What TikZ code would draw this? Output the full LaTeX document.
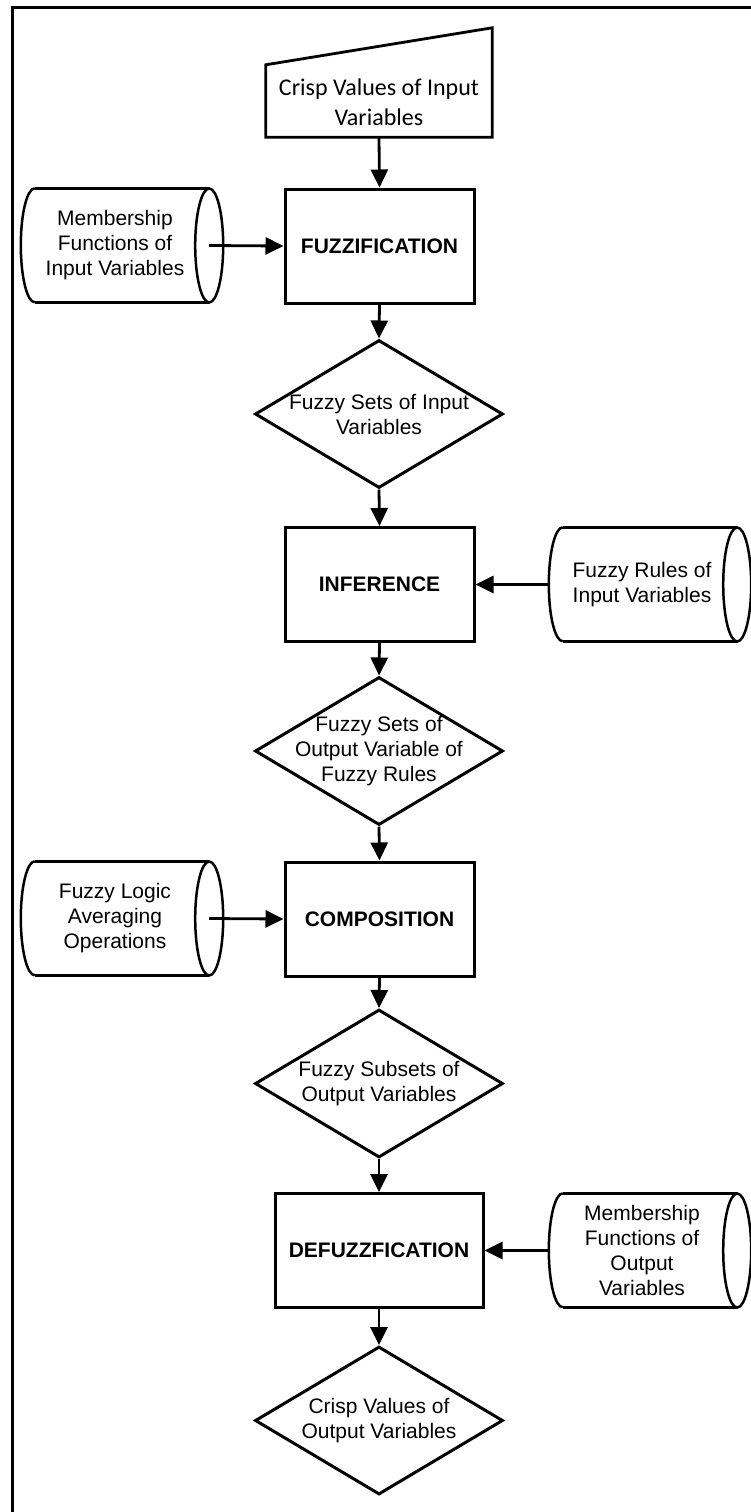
\documentclass[tikz,border=0pt]{standalone}
\usepackage{fontspec}
\setmainfont{Liberation Sans}
\newfontfamily\calibrifont{Carlito}
\usetikzlibrary{arrows.meta,shapes.geometric}
\tikzset{
  proc/.style={draw, line width=3pt, rectangle, minimum width=189pt,
    minimum height=114pt, inner sep=0pt,
    font=\fontsize{21}{25}\selectfont\bfseries},
  dec/.style={draw, line width=3pt, diamond, minimum width=248pt,
    minimum height=148pt, inner sep=0pt},
  txt/.style={align=center, inner sep=0pt, font=\fontsize{21}{25}\selectfont},
  flow/.style={line width=2.8pt, -{Triangle[length=18pt,width=17pt]}},
  store/.style={rectangle, inner sep=0pt, minimum width=174pt, minimum height=114pt},
  cyl/.style={line width=2.5pt},
}
% horizontal stored-data drum: left half-ellipse end, full ellipse on the right
\newcommand\drumoutline[1]{%
  \draw[cyl] (#1.north west) -- (#1.north east) (#1.south west) -- (#1.south east);
  \draw[cyl] (#1.east) ellipse [x radius=14pt, y radius=57pt];
  \draw[cyl] (#1.north west) arc [start angle=90, end angle=270, x radius=14pt, y radius=57pt];
}
\begin{document}
\begin{tikzpicture}[x=1pt, y=-1pt]
\useasboundingbox (0,0) rectangle (751,1512);
\clip (0,0) rectangle (751,1512);

% outer frame
\draw[line width=3pt] (12,1530) -- (12,7.5) -- (770,7.5);

% manual input
\node[rectangle, inner sep=0pt, minimum width=226pt, minimum height=109pt] (cin) at (379,82.5) {};
\draw[line width=2.8pt, line join=miter] (cin.south west) -- (cin.south east) -- (cin.north east)
  -- ([yshift=-37pt]cin.north west) -- cycle;
\node[align=center, inner sep=0pt, font=\calibrifont\fontsize{24}{30}\selectfont]
  (cintxt) at ([yshift=-19.5pt]cin.center) {Crisp Values of Input\\Variables};

% process steps
\node[proc] (fuz) at (379.5,246) {FUZZIFICATION};
\node[proc] (inf) at (379.5,584.5) {INFERENCE};
\node[proc] (com) at (379.5,919) {COMPOSITION};
\node[proc, minimum width=208pt] (def) at (379,1250.5) {DEFUZZFICATION};

% intermediate data
\node[dec] (d1) at (379,414) {};
\node[txt] (d1t) at (d1) {Fuzzy Sets of Input\\Variables};
\node[dec] (d2) at (379,751) {};
\node[txt] (d2t) at (d2) {Fuzzy Sets of\\Output Variable of\\Fuzzy Rules};
\node[dec] (d3) at (379,1083.5) {};
\node[txt] (d3t) at (d3) {Fuzzy Subsets of\\Output Variables};
\node[dec] (d4) at (379,1420.5) {};
\node[txt] (d4t) at (d4) {Crisp Values of\\Output Variables};

% stored knowledge
\node[store] (mfi) at (122,245.5) {};
\drumoutline{mfi}
\node[txt] (mfit) at ([xshift=-7pt]mfi.center) {Membership\\Functions of\\Input Variables};

\node[store] (rul) at (650,584.5) {};
\drumoutline{rul}
\node[txt] (rult) at ([xshift=-8pt]rul.center) {Fuzzy Rules of\\Input Variables};

\node[store] (avg) at (122,918.5) {};
\drumoutline{avg}
\node[txt] (avgt) at ([xshift=-7pt]avg.center) {Fuzzy Logic\\Averaging\\Operations};

\node[store] (mfo) at (650,1250.5) {};
\drumoutline{mfo}
\node[txt] (mfot) at ([xshift=-8pt]mfo.center) {Membership\\Functions of\\Output\\Variables};

% main flow
\draw[flow] (cin.south) -- (fuz.north);
\draw[flow] (fuz.south) -- (d1.north);
\draw[flow] (d1.south) -- (inf.north);
\draw[flow] (inf.south) -- (d2.north);
\draw[flow] (d2.south) -- (com.north);
\draw[flow] (com.south) -- (d3.north);
\draw[flow] (d3.south) -- (def.north);
\draw[flow] (def.south) -- (d4.north);

% side inputs
\draw[flow] (mfi.east) -- (fuz.west);
\draw[flow] ([xshift=-14pt]rul.west) -- (inf.east);
\draw[flow] (avg.east) -- (com.west);
\draw[flow] ([xshift=-14pt]mfo.west) -- (def.east);
\end{tikzpicture}
\end{document}
